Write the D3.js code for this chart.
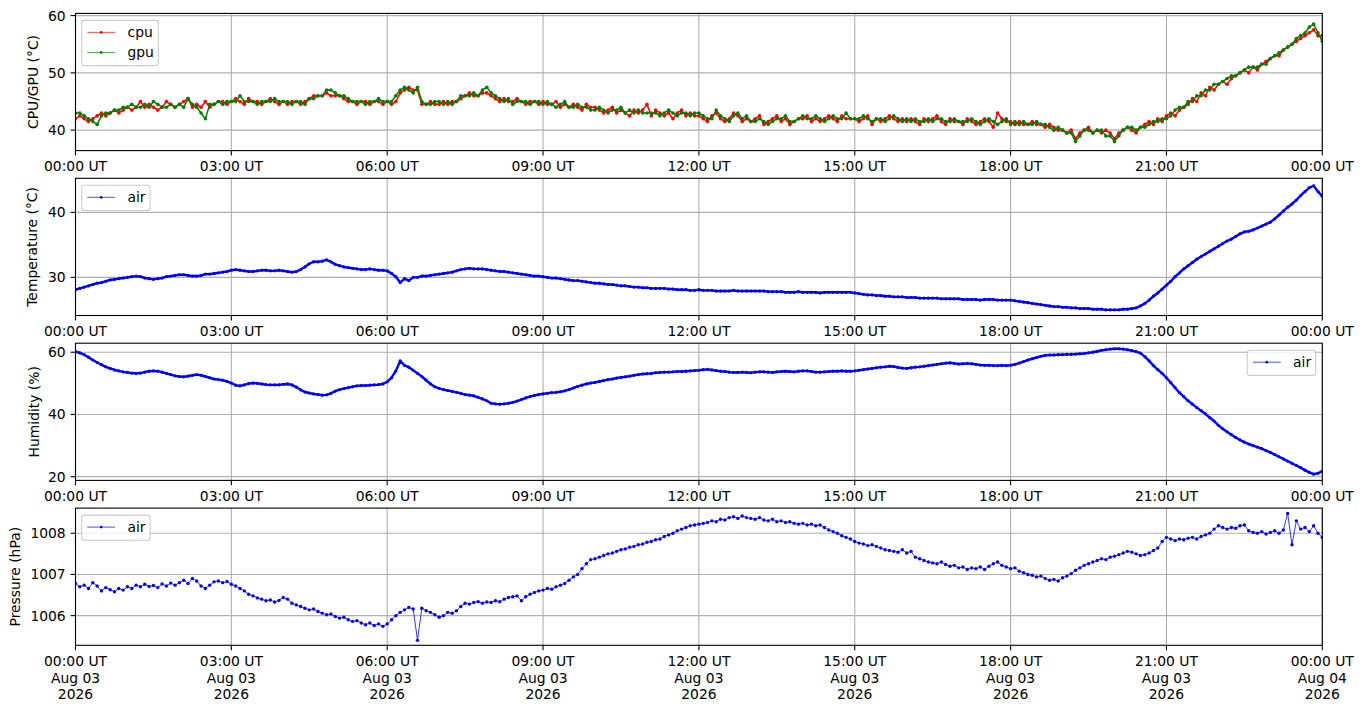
<!DOCTYPE html>
<html>
<head>
<meta charset="utf-8">
<script src="https://cdn.jsdelivr.net/npm/d3@7"></script>
<style>
  body { margin: 0; background: #fff; }
  svg { display: block; }
  text { font-family: "DejaVu Sans", sans-serif; fill: #000; }
</style>
</head>
<body>
<div id="chart"></div>
<script>
// samples every 5 minutes, 2026-08-03 00:00 UT .. 2026-08-04 00:00 UT (one row = one hour)
const startTime = Date.UTC(2026, 7, 3, 0, 0);
const stepMinutes = 5;

const cpuTemp = [
  42, 42.5, 42, 41.5, 42, 42.5, 43, 42.5, 43, 43.5, 43, 43.5,
  44, 43.5, 44, 45, 44, 44.5, 44, 43.5, 44, 45, 44.5, 44,
  44.5, 45, 45.5, 44, 44.5, 44, 45, 44, 44.5, 45, 45, 44.5,
  45, 45.5, 45, 44.5, 45.5, 45, 45, 44.5, 45, 45.5, 45, 44.5,
  45, 44.5, 45, 45, 44.5, 45, 45.5, 46, 46, 46, 46.5, 46,
  46, 46, 45.5, 45, 45, 44.5, 45, 45, 44.5, 45, 45, 44.5,
  45, 44.5, 45, 46.5, 47, 47.5, 47, 47, 44.5, 44.5, 45, 44.5,
  44.5, 45, 44.5, 45, 45, 45.5, 46, 46.5, 46, 46, 46.5, 46.5,
  46, 45.5, 45, 45.5, 45, 45, 45.5, 45, 44.5, 45, 45, 44.5,
  45, 44.5, 44.5, 45, 44, 44.5, 44, 44.5, 44, 43.5, 44.5, 44,
  44, 43.5, 43, 43.5, 44, 43, 43.5, 43, 42.5, 43.5, 43, 43.5,
  44.5, 42.5, 43.5, 43, 42.5, 43, 42, 43, 43.5, 42.5, 43, 42.5,
  42.5, 42, 41.5, 42.5, 43, 42, 41.5, 42, 43, 42.5, 41.5, 42,
  41.5, 42, 42.5, 41, 41.5, 42, 42.5, 41.5, 42, 41, 41.5, 42,
  42, 42.5, 41.5, 42, 41.5, 42, 42.5, 42, 41.5, 42.5, 42, 42,
  42, 41.5, 42, 42.5, 41, 42, 41.5, 42, 42.5, 42, 41.5, 42,
  41.5, 42, 41.5, 41, 42, 41.5, 42, 42.5, 41.5, 41, 42, 41.5,
  41.5, 41, 42, 41.5, 41, 41.5, 42, 41.5, 40.5, 43, 42, 41.5,
  41.5, 41, 41.5, 41, 41, 41.5, 41, 41, 40.5, 41, 40.5, 40,
  40, 39.5, 40, 38.5, 39.5, 40, 40.5, 39.5, 40, 39.5, 40, 39.5,
  38.5, 39.5, 40, 40.5, 40, 39.5, 40.5, 41, 41.5, 41, 42, 41.5,
  42.5, 43, 42.5, 43.5, 44, 44.5, 45.5, 45, 46.5, 46, 47.5, 47,
  48, 48.5, 48, 49, 49.5, 50, 50.5, 50, 51, 50.5, 51.5, 52,
  52.5, 53, 53, 54, 54.5, 55, 55.5, 56, 56.5, 57, 57.5, 56.5,
  56.5
];

const gpuTemp = [
  43, 43, 42.5, 42, 41.5, 41, 42.5, 43, 43, 43.5, 43.5, 44,
  44, 44.5, 44, 44, 44.5, 44, 45, 44.5, 44, 44, 44.5, 44,
  44.5, 44, 45.5, 44.5, 44, 43, 42, 44.5, 44.5, 45, 44.5, 45,
  45, 45, 46, 45, 45, 45, 44.5, 45, 45, 45, 45.5, 45,
  45, 45, 44.5, 45, 45, 44.5, 45.5, 45.5, 46, 46, 47, 47,
  46.5, 46, 46, 45.5, 45, 45, 45, 44.5, 45, 45, 45.5, 45,
  45, 45, 46, 47, 47.5, 47, 46.5, 47.5, 45, 44.5, 44.5, 45,
  45, 44.5, 45, 44.5, 45, 46, 46, 46, 46.5, 46, 47, 47.5,
  46.5, 46, 45.5, 45, 45.5, 44.5, 45, 45, 45, 44.5, 45, 45,
  44.5, 45, 44.5, 44, 44.5, 45, 44, 44, 44.5, 44, 44, 43.5,
  43.5, 44, 43.5, 43, 43.5, 43.5, 44, 43, 43.5, 43, 43.5, 43,
  43, 43, 43, 42.5, 43, 43.5, 43, 42.5, 43, 43, 42.5, 43,
  43, 42.5, 42, 42, 43.5, 42.5, 42, 41.5, 42.5, 43, 42, 42.5,
  41.5, 41.5, 42, 41.5, 41, 41.5, 42, 42, 42.5, 41.5, 41.5, 42,
  42.5, 42, 42, 42.5, 42, 41.5, 42, 42.5, 42, 42, 43, 42,
  42, 42, 42.5, 42, 41.5, 42, 42, 41.5, 42, 42.5, 42, 41.5,
  42, 41.5, 42, 41.5, 41.5, 42, 41.5, 42, 42, 41.5, 41.5, 42,
  41.5, 41.5, 41.5, 42, 41.5, 41, 41.5, 42, 41.5, 41, 41.5, 42,
  41, 41.5, 41, 41.5, 41, 41, 41.5, 41, 41, 40.5, 40, 40.5,
  40, 39.5, 39.5, 38, 39, 40, 40, 39.5, 40, 40, 39, 39,
  38, 39, 40, 40.5, 40.5, 40, 40.5, 40.5, 41, 41.5, 41.5, 42,
  42, 42.5, 43.5, 44, 44, 45, 45, 46, 46, 47, 47, 48,
  48, 48.5, 49, 49.5, 49.5, 50, 50.5, 51, 51, 51, 51.5, 51.5,
  52.5, 53, 53.5, 54, 54.5, 55, 56, 56.5, 57, 58, 58.5, 57,
  55.5
];

const airTemp = [
  28.1, 28.3, 28.5, 28.7, 28.9, 29.1, 29.2, 29.4, 29.6, 29.7, 29.8, 29.9,
  30.0, 30.1, 30.2, 30.1, 29.9, 29.8, 29.7, 29.8, 29.9, 30.1, 30.2, 30.3,
  30.4, 30.4, 30.3, 30.2, 30.2, 30.3, 30.5, 30.5, 30.6, 30.7, 30.8, 30.9,
  31.1, 31.2, 31.1, 31.0, 30.9, 30.9, 31.0, 31.1, 31.1, 31.0, 31.0, 31.1,
  31.0, 30.9, 30.8, 30.9, 31.2, 31.6, 32.1, 32.4, 32.4, 32.5, 32.7, 32.4,
  32.0, 31.8, 31.6, 31.5, 31.4, 31.3, 31.2, 31.2, 31.3, 31.2, 31.1, 31.1,
  31.0, 30.6, 30.1, 29.2, 29.8, 29.5, 30.0, 30.0, 30.2, 30.2, 30.3, 30.4,
  30.5, 30.6, 30.7, 30.8, 31.0, 31.2, 31.3, 31.4, 31.3, 31.3, 31.3, 31.2,
  31.1, 31.0, 30.9, 30.9, 30.8, 30.7, 30.6, 30.5, 30.4, 30.3, 30.2, 30.2,
  30.1, 30.0, 29.9, 29.9, 29.8, 29.7, 29.6, 29.5, 29.5, 29.4, 29.3, 29.2,
  29.1, 29.1, 29.0, 28.9, 28.9, 28.8, 28.7, 28.7, 28.6, 28.5, 28.5, 28.4,
  28.4, 28.3, 28.3, 28.3, 28.3, 28.2, 28.2, 28.1, 28.1, 28.1, 28.0, 28.0,
  28.1, 28.0, 28.0, 28.0, 27.9, 27.9, 27.9, 27.9, 28.0, 27.9, 27.9, 27.9,
  27.9, 27.9, 27.9, 27.9, 27.8, 27.8, 27.8, 27.8, 27.7, 27.7, 27.7, 27.8,
  27.7, 27.7, 27.7, 27.7, 27.6, 27.7, 27.7, 27.7, 27.7, 27.7, 27.7, 27.7,
  27.6, 27.5, 27.4, 27.3, 27.3, 27.2, 27.2, 27.1, 27.1, 27.0, 27.0, 27.0,
  26.9, 26.9, 26.9, 26.8, 26.8, 26.8, 26.8, 26.8, 26.7, 26.7, 26.7, 26.7,
  26.7, 26.6, 26.6, 26.6, 26.6, 26.5, 26.6, 26.6, 26.6, 26.5, 26.5, 26.5,
  26.5, 26.4, 26.3, 26.2, 26.1, 26.0, 25.9, 25.8, 25.7, 25.6, 25.5, 25.5,
  25.4, 25.4, 25.3, 25.3, 25.2, 25.2, 25.2, 25.1, 25.1, 25.1, 25.0, 25.0,
  25.0, 25.0, 25.1, 25.1, 25.2, 25.3, 25.6, 26.0, 26.5, 27.1, 27.6, 28.2,
  28.8, 29.4, 30.1, 30.7, 31.3, 31.8, 32.3, 32.8, 33.2, 33.6, 34.0, 34.4,
  34.8, 35.2, 35.6, 35.9, 36.3, 36.7, 37.0, 37.1, 37.3, 37.6, 37.9, 38.2,
  38.5, 39.0, 39.6, 40.2, 40.8, 41.3, 41.9, 42.6, 43.2, 43.8, 44.1, 43.2,
  42.5
];

const airHumidity = [
  60.2, 59.8, 59.2, 58.4, 57.5, 56.7, 56.0, 55.3, 54.8, 54.3, 54.0, 53.7,
  53.5, 53.3, 53.2, 53.3, 53.6, 53.9, 54.0, 53.9, 53.6, 53.2, 52.8, 52.4,
  52.2, 52.1, 52.3, 52.6, 52.8, 52.6, 52.2, 51.8, 51.4, 51.2, 51.0, 50.6,
  50.1, 49.4, 49.2, 49.5, 49.9, 50.1, 50.0, 49.8, 49.6, 49.5, 49.5, 49.5,
  49.7, 49.8, 49.5, 48.8, 47.9, 47.2, 46.9, 46.6, 46.4, 46.2, 46.3, 46.8,
  47.5, 48.0, 48.3, 48.6, 48.9, 49.2, 49.3, 49.3, 49.4, 49.5, 49.6, 49.8,
  50.5, 51.8, 54.0, 57.2, 55.8, 55.2, 54.2, 53.2, 52.2, 51.0, 49.8, 48.9,
  48.4, 48.0, 47.7, 47.4, 47.1, 46.8, 46.4, 46.2, 46.0, 45.5, 45.0, 44.4,
  43.6, 43.4, 43.3, 43.4, 43.6, 43.9, 44.3, 44.8, 45.3, 45.7, 46.1, 46.4,
  46.6, 46.8, 47.0, 47.1, 47.3, 47.6, 48.0, 48.5, 49.0, 49.4, 49.8, 50.1,
  50.3, 50.6, 50.9, 51.2, 51.4, 51.7, 51.9, 52.1, 52.3, 52.6, 52.8, 53.0,
  53.1, 53.2, 53.4, 53.5, 53.6, 53.6, 53.7, 53.8, 53.8, 53.9, 54.0, 54.1,
  54.2, 54.4, 54.5, 54.3, 54.1, 53.9, 53.8, 53.6, 53.5, 53.5, 53.6, 53.5,
  53.4, 53.6, 53.7, 53.7, 53.6, 53.5, 53.7, 53.8, 53.9, 53.8, 53.7, 53.9,
  54.0, 54.0, 53.8, 53.6, 53.6, 53.7, 53.8, 53.9, 53.9, 54.0, 53.9, 53.9,
  54.0, 54.2, 54.4, 54.6, 54.8, 55.0, 55.2, 55.3, 55.5, 55.4, 55.1, 54.9,
  54.8, 55.0, 55.2, 55.3, 55.5, 55.7, 55.9, 56.1, 56.3, 56.5, 56.6, 56.4,
  56.2, 56.3, 56.4, 56.3, 56.1, 55.9, 55.8, 55.8, 55.7, 55.7, 55.8, 55.7,
  55.8, 56.1, 56.5, 57.0, 57.5, 57.9, 58.3, 58.7, 59.0, 59.1, 59.1, 59.2,
  59.2, 59.3, 59.3, 59.4, 59.5, 59.6, 59.8, 60.0, 60.3, 60.6, 60.8, 61.0,
  61.1, 61.1, 61.0, 60.8, 60.5, 60.2, 59.7, 58.6, 57.2, 55.7, 54.4, 53.2,
  51.8, 50.2, 48.6, 47.0, 45.7, 44.4, 43.3, 42.2, 41.2, 40.2, 39.0, 37.9,
  36.5, 35.4, 34.4, 33.5, 32.6, 31.8, 31.1, 30.5, 30.0, 29.5, 29.0, 28.4,
  27.8, 27.1, 26.4, 25.7, 25.0, 24.3, 23.6, 22.9, 22.1, 21.4, 20.8, 21.1,
  21.8
];

const airPressure = [
  1006.78, 1006.70, 1006.74, 1006.66, 1006.80, 1006.72, 1006.60, 1006.68, 1006.63, 1006.58, 1006.66, 1006.62,
  1006.70, 1006.66, 1006.74, 1006.70, 1006.76, 1006.71, 1006.73, 1006.68, 1006.77, 1006.72, 1006.79, 1006.74,
  1006.80, 1006.86, 1006.78, 1006.90, 1006.84, 1006.72, 1006.66, 1006.74, 1006.82, 1006.84, 1006.80, 1006.83,
  1006.76, 1006.72, 1006.66, 1006.60, 1006.52, 1006.48, 1006.43, 1006.40, 1006.36, 1006.38, 1006.33, 1006.37,
  1006.44, 1006.40, 1006.30, 1006.26, 1006.22, 1006.18, 1006.14, 1006.16, 1006.10, 1006.06, 1006.02, 1006.04,
  1005.98, 1005.94, 1005.96, 1005.90, 1005.86, 1005.88, 1005.82, 1005.78, 1005.82, 1005.76, 1005.80, 1005.74,
  1005.80, 1005.90, 1006.00, 1006.08, 1006.14, 1006.20, 1006.16, 1005.40, 1006.18, 1006.12, 1006.08, 1006.02,
  1005.96, 1006.00, 1006.08, 1006.06, 1006.12, 1006.22, 1006.30, 1006.28, 1006.32, 1006.34, 1006.30, 1006.33,
  1006.32, 1006.36, 1006.34, 1006.40, 1006.44, 1006.46, 1006.48, 1006.36, 1006.46, 1006.52, 1006.56, 1006.60,
  1006.62, 1006.66, 1006.64, 1006.70, 1006.74, 1006.78, 1006.86, 1006.94, 1007.00, 1007.14, 1007.26, 1007.36,
  1007.38, 1007.42, 1007.46, 1007.50, 1007.52, 1007.56, 1007.60, 1007.62, 1007.66, 1007.68, 1007.72, 1007.74,
  1007.78, 1007.80, 1007.84, 1007.86, 1007.92, 1007.96, 1008.00, 1008.06, 1008.10, 1008.14, 1008.18, 1008.20,
  1008.22, 1008.24, 1008.26, 1008.30, 1008.28, 1008.34, 1008.32, 1008.38, 1008.40, 1008.36, 1008.42, 1008.38,
  1008.36, 1008.34, 1008.38, 1008.32, 1008.30, 1008.34, 1008.28, 1008.30, 1008.26, 1008.28, 1008.24, 1008.22,
  1008.24, 1008.20, 1008.22, 1008.18, 1008.20, 1008.14, 1008.08, 1008.04, 1008.00, 1007.94, 1007.90, 1007.86,
  1007.80, 1007.76, 1007.74, 1007.70, 1007.72, 1007.68, 1007.64, 1007.60, 1007.58, 1007.56, 1007.54, 1007.60,
  1007.52, 1007.56, 1007.42, 1007.38, 1007.34, 1007.30, 1007.28, 1007.26, 1007.30, 1007.24, 1007.20, 1007.22,
  1007.16, 1007.18, 1007.12, 1007.16, 1007.14, 1007.18, 1007.12, 1007.20, 1007.26, 1007.30, 1007.22, 1007.18,
  1007.14, 1007.16, 1007.08, 1007.04, 1007.00, 1006.98, 1006.94, 1006.96, 1006.90, 1006.86, 1006.88, 1006.84,
  1006.92, 1006.96, 1007.02, 1007.10, 1007.16, 1007.22, 1007.26, 1007.30, 1007.34, 1007.38, 1007.36, 1007.42,
  1007.44, 1007.48, 1007.52, 1007.56, 1007.54, 1007.50, 1007.46, 1007.48, 1007.52, 1007.58, 1007.64, 1007.80,
  1007.90, 1007.86, 1007.82, 1007.86, 1007.84, 1007.88, 1007.90, 1007.86, 1007.92, 1007.96, 1008.00, 1008.10,
  1008.18, 1008.14, 1008.10, 1008.14, 1008.12, 1008.18, 1008.20, 1008.06, 1008.02, 1008.00, 1008.04, 1007.98,
  1008.02, 1008.06, 1008.00, 1008.08, 1008.48, 1007.72, 1008.30, 1008.10, 1008.14, 1008.04, 1008.18, 1008.00,
  1007.90
];

const cpuGpuTicks = [40, 50, 60];
const airTempTicks = [30, 40];
const humidityTicks = [20, 40, 60];
const pressureTicks = [1006, 1007, 1008];

const width = 1363, height = 711;
const left = 75.5, right = 1322.3;
const panelTop0 = 13.4, panelStep = 164.9, panelH = 137.2;
const fontSize = 13.89;

const panels = [
  { ylabel: "CPU/GPU (°C)", domain: [36.43, 60.38], ticks: cpuGpuTicks, labelX: 33,
    legend: "left", lineWidth: 1.5, dot: 1.8, series: [
      { name: "cpu", values: cpuTemp, color: "#ff0000" },
      { name: "gpu", values: gpuTemp, color: "#008000" }] },
  { ylabel: "Temperature (°C)", domain: [24.13, 45.25], ticks: airTempTicks, labelX: 32,
    legend: "left", lineWidth: 2.4, dot: 1.6, series: [{ name: "air", values: airTemp, color: "#0000ff" }] },
  { ylabel: "Humidity (%)", domain: [18.8, 62.9], ticks: humidityTicks, labelX: 33.5,
    legend: "right", lineWidth: 2.4, dot: 1.6, series: [{ name: "air", values: airHumidity, color: "#0000ff" }] },
  { ylabel: "Pressure (hPa)", domain: [1005.28, 1008.61], ticks: pressureTicks, labelX: 15,
    legend: "left", lineWidth: 0.8, dot: 1.7, series: [{ name: "air", values: airPressure, color: "#0000ff" }] }
];

const timeAt = i => new Date(startTime + i * stepMinutes * 60000);

const x = d3.scaleUtc()
  .domain([new Date(startTime), new Date(startTime + 24 * 3600000)])
  .range([left, right]);
const xTicks = x.ticks(d3.utcHour.every(3));
const fmtTime = d3.utcFormat("%H:%M UT");
const fmtDay = d3.utcFormat("%b %d");
const fmtYear = d3.utcFormat("%Y");

const svg = d3.select("#chart").append("svg")
  .attr("width", width).attr("height", height);
svg.append("rect").attr("width", width).attr("height", height).attr("fill", "#fff");

panels.forEach((p, k) => {
  const top = panelTop0 + k * panelStep, bottom = top + panelH;
  const y = d3.scaleLinear().domain(p.domain).range([bottom, top]);
  const g = svg.append("g");

  // grid
  g.selectAll(".vgrid").data(xTicks).enter().append("line")
    .attr("x1", d => x(d)).attr("x2", d => x(d)).attr("y1", top).attr("y2", bottom)
    .attr("stroke", "#b0b0b0").attr("stroke-width", 1.1);
  g.selectAll(".hgrid").data(p.ticks).enter().append("line")
    .attr("x1", left).attr("x2", right).attr("y1", d => y(d)).attr("y2", d => y(d))
    .attr("stroke", "#b0b0b0").attr("stroke-width", 1.1);

  // data
  const clipId = "clip" + k;
  svg.append("clipPath").attr("id", clipId).append("rect")
    .attr("x", left).attr("y", top).attr("width", right - left).attr("height", panelH);
  const plot = g.append("g").attr("clip-path", `url(#${clipId})`);
  const line = d3.line().x((d, i) => x(timeAt(i))).y(d => y(d));
  p.series.forEach(s => {
    plot.append("path").datum(s.values).attr("d", line)
      .attr("fill", "none").attr("stroke", s.color).attr("stroke-width", p.lineWidth)
      .attr("stroke-linejoin", "round");
    plot.append("g").selectAll("circle").data(s.values).enter().append("circle")
      .attr("cx", (d, i) => x(timeAt(i))).attr("cy", d => y(d))
      .attr("r", p.dot).attr("fill", s.color);
  });

  // frame
  g.append("rect").attr("x", left).attr("y", top).attr("width", right - left).attr("height", panelH)
    .attr("fill", "none").attr("stroke", "#000").attr("stroke-width", 1.1);

  // y axis ticks
  p.ticks.forEach(t => {
    g.append("line").attr("x1", left - 4.9).attr("x2", left).attr("y1", y(t)).attr("y2", y(t))
      .attr("stroke", "#000").attr("stroke-width", 1.1);
    g.append("text").attr("x", left - 9.8).attr("y", y(t)).attr("dy", "0.36em")
      .attr("text-anchor", "end").attr("font-size", fontSize).text(t);
  });
  g.append("text")
    .attr("transform", `translate(${p.labelX},${(top + bottom) / 2}) rotate(-90)`)
    .attr("text-anchor", "middle").attr("dy", "0.36em").attr("font-size", fontSize)
    .text(p.ylabel);

  // x axis ticks
  xTicks.forEach(t => {
    g.append("line").attr("x1", x(t)).attr("x2", x(t)).attr("y1", bottom).attr("y2", bottom + 4.9)
      .attr("stroke", "#000").attr("stroke-width", 1.1);
    const tx = g.append("text").attr("x", x(t)).attr("y", bottom + 20.8)
      .attr("text-anchor", "middle").attr("font-size", fontSize);
    if (k < panels.length - 1) {
      tx.text(fmtTime(t));
    } else {
      tx.append("tspan").attr("x", x(t)).text(fmtTime(t));
      tx.append("tspan").attr("x", x(t)).attr("dy", 16.4).text(fmtDay(t));
      tx.append("tspan").attr("x", x(t)).attr("dy", 16.4).text(fmtYear(t));
    }
  });

  // legend
  const n = p.series.length;
  const boxW = n > 1 ? 76.6 : 68.4, boxH = 5.2 + 20 * n;
  const bx = p.legend === "left" ? left + 6.2 : right - 6.6 - boxW;
  const by = top + 7;
  const lg = g.append("g");
  lg.append("rect").attr("x", bx).attr("y", by).attr("width", boxW).attr("height", boxH)
    .attr("rx", 2.8).attr("fill", "#fff").attr("fill-opacity", 0.8)
    .attr("stroke", "#cccccc").attr("stroke-width", 1.1);
  p.series.forEach((s, j) => {
    const cy = by + 12 + 20 * j;
    lg.append("line").attr("x1", bx + 5.6).attr("x2", bx + 33.4).attr("y1", cy).attr("y2", cy)
      .attr("stroke", s.color).attr("stroke-width", 0.7);
    lg.append("circle").attr("cx", bx + 19.5).attr("cy", cy).attr("r", 1.35).attr("fill", s.color);
    lg.append("text").attr("x", bx + 45.8).attr("y", cy).attr("dy", "0.36em")
      .attr("font-size", fontSize).text(s.name);
  });
});
</script>
</body>
</html>
